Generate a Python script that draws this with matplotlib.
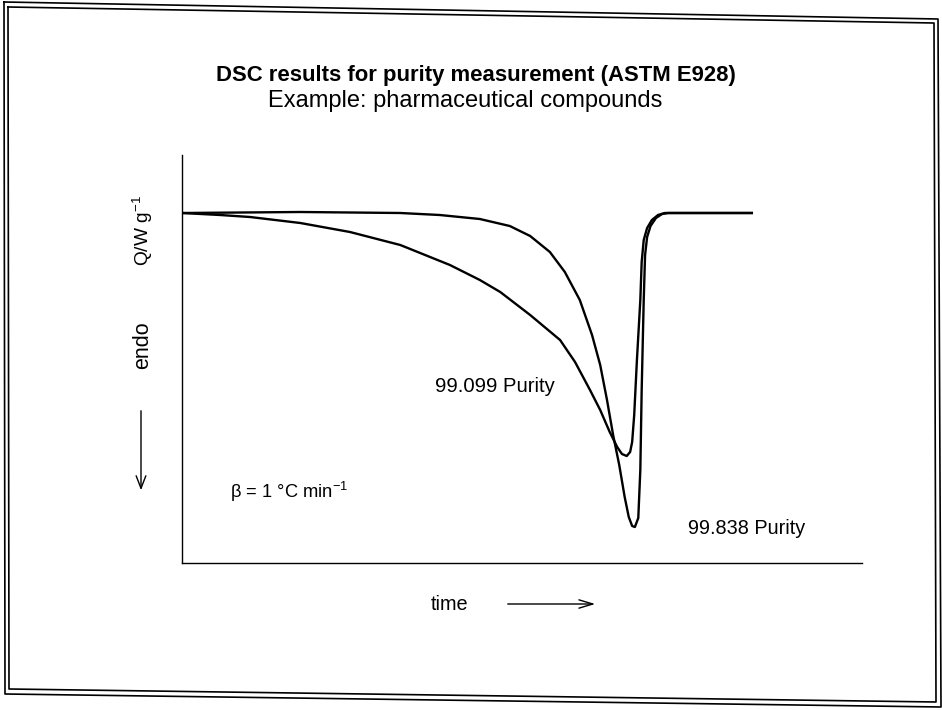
import numpy as np
import matplotlib
matplotlib.use("Agg")
import matplotlib.pyplot as plt
from matplotlib.lines import Line2D

plt.rcParams['font.family'] = ['Liberation Sans', 'DejaVu Sans']
plt.rcParams['mathtext.fontset'] = 'custom'
plt.rcParams['mathtext.rm'] = 'Liberation Sans'

# heat flow traces (arbitrary units, baseline = 0) against time (0-100)
time_a = [0, 5.6, 10.0, 17.4, 24.7, 32.1, 39.4, 43.8, 46.8, 51.2, 55.6, 57.8,
          60.0, 61.5, 62.9, 64.0, 64.7, 65.4, 65.9, 66.2, 66.5, 66.9, 67.4,
          67.6, 67.9, 68.4, 69.1, 70.0, 71.0, 83.8]
flow_a = [0, -0.02, -0.04, -0.10, -0.19, -0.32, -0.52, -0.67, -0.79, -1.02,
          -1.27, -1.49, -1.77, -1.97, -2.19, -2.34, -2.41, -2.43, -2.39, -2.29,
          -2.02, -1.47, -0.87, -0.49, -0.27, -0.15, -0.07, -0.02, 0, 0]

time_b = [0, 17.4, 32.1, 37.9, 43.8, 48.2, 51.2, 54.1, 56.3, 58.5, 60.3, 61.5,
          62.5, 63.4, 64.3, 65.1, 65.7, 66.2, 66.6, 67.1, 67.4, 67.6, 67.9,
          68.1, 68.4, 68.9, 69.7, 70.6, 71.5, 83.8]
flow_b = [0, 0.01, 0, -0.02, -0.06, -0.13, -0.23, -0.39, -0.59, -0.87, -1.22,
          -1.52, -1.87, -2.22, -2.52, -2.84, -3.04, -3.13, -3.14, -3.05, -2.57,
          -1.77, -0.87, -0.42, -0.24, -0.13, -0.05, -0.01, 0, 0]

labels = ["99.099 Purity", "99.838 Purity"]

W, H = 942, 710
fig = plt.figure(figsize=(W / 100, H / 100), dpi=100)
ax = fig.add_axes([182 / W, (H - 563) / H, 680 / W, 408 / H])

ax.plot(time_a, flow_a, color='black', lw=1.7, solid_joinstyle='round')
ax.plot(time_b, flow_b, color='black', lw=1.7, solid_joinstyle='round')
ax.set_xlim(0, 100)
ax.set_ylim(-3.50, 0.58)
ax.set_xticks([])
ax.set_yticks([])
for s in ['top', 'right']:
    ax.spines[s].set_visible(False)
for s in ['left', 'bottom']:
    ax.spines[s].set_linewidth(1.0)

def px(x, y):
    # pixel position (from top-left) -> figure fraction
    return x / W, 1 - y / H

# titles
fig.text(*px(476, 76), "DSC results for purity measurement (ASTM E928)",
         ha='center', va='center', fontsize=15.9, fontweight='bold')
fig.text(*px(465, 101), "Example: pharmaceutical compounds",
         ha='center', va='center', fontsize=17)

# curve labels and rate
fig.text(*px(435, 386), labels[0], ha='left', va='center', fontsize=14.6)
fig.text(*px(688, 529), labels[1], ha='left', va='center', fontsize=14.3)
fig.text(*px(230, 492), r"β = 1 °C min$^{\mathregular{-1}}$",
         ha='left', va='center', fontsize=13.2)

# y axis label with downward arrow
fig.text(*px(143, 230), r"Q/W g$^{\mathregular{-1}}$", ha='center', va='center',
         rotation=90, fontsize=13.8)
fig.text(*px(143, 345), "endo", ha='center', va='center', rotation=90,
         fontsize=15.5)
fig.add_artist(matplotlib.patches.FancyArrowPatch(
    px(141, 408), px(141, 493), transform=fig.transFigure,
    arrowstyle='->,head_length=9,head_width=3.5', lw=1.0, color='black'))

# x axis label with arrow
fig.text(*px(450, 604), "time", ha='center', va='center', fontsize=14.3)
fig.add_artist(matplotlib.patches.FancyArrowPatch(
    px(505, 604), px(598, 604), transform=fig.transFigure,
    arrowstyle='->,head_length=10,head_width=3', lw=1.0, color='black'))

# double page frame
outer = [(4, 2), (938, 19), (941, 707), (5, 694), (4, 2)]
inner = [(8, 7), (934, 23), (936, 702), (9, 689), (8, 7)]
for frame in (outer, inner):
    xs = [p[0] / W for p in frame]
    ys = [1 - p[1] / H for p in frame]
    fig.add_artist(Line2D(xs, ys, transform=fig.transFigure, color='black',
                          lw=1.2))

fig.savefig("out.png", dpi=100)
